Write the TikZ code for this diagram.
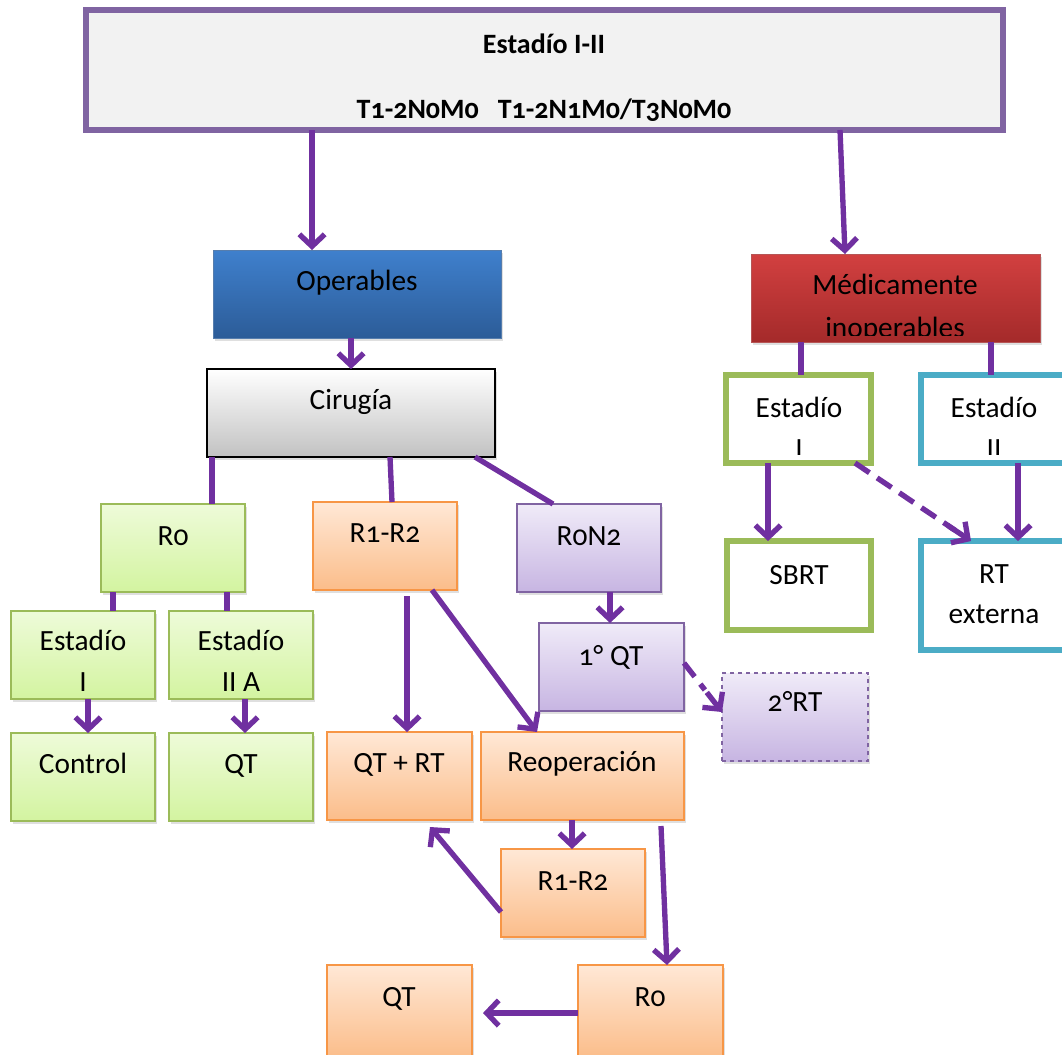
\documentclass[tikz,border=0pt]{standalone}
\usepackage{fontspec}
\setmainfont[Numbers=OldStyle]{Carlito}
\usetikzlibrary{arrows.meta,shadows,fit,calc}
\definecolor{purp}{HTML}{7030A0}
\definecolor{topborder}{HTML}{8064A2}
\definecolor{topfill}{HTML}{F2F2F2}
\definecolor{blueT}{HTML}{3F80CD}
\definecolor{blueB}{HTML}{2C5C98}
\definecolor{redT}{HTML}{D24040}
\definecolor{redB}{HTML}{A42A2A}
\definecolor{grnT}{HTML}{EEFBD9}
\definecolor{grnB}{HTML}{D3F4A0}
\definecolor{grnBorder}{HTML}{9BBB59}
\definecolor{orgT}{HTML}{FFE8D6}
\definecolor{orgB}{HTML}{FBBD8A}
\definecolor{orgBorder}{HTML}{F79646}
\definecolor{purT}{HTML}{F0EBF8}
\definecolor{purB}{HTML}{C7B5E2}
\definecolor{cyanBorder}{HTML}{4BACC6}
\tikzset{
  bx/.style={inner sep=0pt, outer sep=0pt, draw},
  shad/.style={drop shadow={opacity=0.25, shadow xshift=1.5pt, shadow yshift=-2pt}},
  topbox/.style={bx, fill=topfill, draw=topborder, line width=3.8pt, shad},
  bluebox/.style={bx, draw=blueB!80!white, line width=0.6pt, top color=blueT, bottom color=blueB, shad},
  redbox/.style={bx, draw=redB!80!white, line width=0.6pt, top color=redT, bottom color=redB, shad},
  graybox/.style={bx, draw=black, line width=1pt, top color=white, bottom color=black!24, shad},
  grnbox/.style={bx, draw=grnBorder, line width=1.2pt, top color=grnT, bottom color=grnB, shad},
  orgbox/.style={bx, draw=orgBorder, line width=1.2pt, top color=orgT, bottom color=orgB, shad},
  purbox/.style={bx, draw=topborder, line width=1.2pt, top color=purT, bottom color=purB, shad},
  gwbox/.style={bx, draw=grnBorder, fill=white, line width=3.8pt},
  cwbox/.style={bx, draw=cyanBorder, fill=white, line width=3.8pt},
  txt/.style={anchor=base, inner sep=0pt, font=\fontsize{22}{26}\selectfont},
  btxt/.style={anchor=base, inner sep=0pt, font=\fontsize{21}{25}\selectfont\bfseries},
  conn/.style={draw=purp, line width=4pt},
  arr/.style={conn, -{Straight Barb[length=9pt,width=19pt]}},
  dline/.style={conn, dash pattern=on 13pt off 7pt},
}
\begin{document}
\begin{tikzpicture}[x=0.75pt,y=-0.75pt]
\useasboundingbox (0,0) rectangle (1062,1054);
% boxes
\node[topbox, fit={(86,10)(1003,130)}] (top) {};
\node[bluebox, fit={(213,250)(501,338)}] (op) {};
\node[graybox, fit={(207,369)(495,457)}] (cir) {};
\node[redbox, fit={(751,254)(1040,342)}] (med) {};
\node[gwbox, fit={(726,375)(871,463)}] (ei) {};
\node[cwbox, fit={(921,375)(1068,463)}] (eii) {};
\node[gwbox, fit={(727,541)(871,630)}] (sbrt) {};
\node[cwbox, fit={(921,541)(1068,650)}] (rte) {};
\node[grnbox, fit={(101,504)(245,592)}] (r0) {};
\node[grnbox, fit={(11,611)(155,699)}] (gei) {};
\node[grnbox, fit={(169,611)(313,699)}] (geii) {};
\node[grnbox, fit={(11,733)(155,821)}] (ctrl) {};
\node[grnbox, fit={(169,733)(313,821)}] (gqt) {};
\node[orgbox, fit={(313,502)(457,590)}] (r12) {};
\node[purbox, fit={(517,504)(661,592)}] (r0n2) {};
\node[purbox, fit={(539,623)(684,711)}] (qt1) {};
\node[purbox, dashed, fit={(722,673)(868,761)}] (rt2) {};
\node[orgbox, fit={(327,732)(472,820)}] (qtrt) {};
\node[orgbox, fit={(481,732)(684,820)}] (reop) {};
\node[orgbox, fit={(501,849)(645,937)}] (r12b) {};
\node[orgbox, fit={(327,965)(472,1058)}] (qtb) {};
\node[orgbox, fit={(578,965)(723,1058)}] (r0b) {};
% texts
\node[btxt] (tA) at (544,53) {Estadío I-II};
\node[btxt] (tB) at (544,118) {T1-2N0M0\ \ \ T1-2N1M0/T3N0M0};
\node[txt] (tOp) at (357,290) {Operables};
\node[txt] (tCir) at (351,409) {Cirugía};
\begin{scope}
\clip (751,254) rectangle (1040,335);
\node[txt] (tMed) at (895,294) {Médicamente};
\node[txt] (tIno) at (895,337) {inoperables};
\end{scope}
\begin{scope}
\clip (726,375) rectangle (871,454);
\node[txt] (tEI) at (799,417) {Estadío};
\node[txt] (tEI2) at (799,458) {I};
\end{scope}
\begin{scope}
\clip (921,375) rectangle (1068,454);
\node[txt] (tEII) at (994,417) {Estadío};
\node[txt] (tEII2) at (994,458) {II};
\end{scope}
\node[txt] (tSB) at (799,584) {SBRT};
\node[txt] (tRT) at (994,583) {RT};
\node[txt] (tRT2) at (994,623) {externa};
\node[txt] (tR0) at (173,545) {R0};
\node[txt] (tGE) at (83,650) {Estadío};
\node[txt] (tGE2) at (83,691) {I};
\node[txt] (tGEII) at (241,650) {Estadío};
\node[txt] (tGEII2) at (241,691) {II A};
\node[txt] (tCtrl) at (83,773) {Control};
\node[txt] (tGQT) at (241,773) {QT};
\node[txt] (tR12) at (385,542) {R1-R2};
\node[txt] (tR0N2) at (589,545) {R0N2};
\node[txt] (tQT1) at (611,665) {1° QT};
\node[txt] (tRT2b) at (795,711) {2°RT};
\node[txt] (tQTRT) at (399,772) {QT + RT};
\node[txt] (tReop) at (582,771) {Reoperación};
\node[txt] (tR12b) at (573,890) {R1-R2};
\node[txt] (tQTb) at (399,1006) {QT};
\node[txt] (tR0b) at (650,1006) {R0};
% connectors
\draw[arr] (312,0 |- top.south) -- (312,0 |- op.north);
\draw[arr] (840,0 |- top.south) -- (845,0 |- med.north);
\draw[arr] (351,0 |- op.south) -- (351,0 |- cir.north);
\draw[conn] (801,0 |- med.south) -- (801,0 |- ei.north);
\draw[conn] (991,0 |- med.south) -- (991,0 |- eii.north);
\draw[arr] (768,0 |- ei.south) -- (768,0 |- sbrt.north);
\coordinate (d1a) at (855,0 |- ei.south);
\coordinate (d1b) at (971,0 |- rte.north);
\draw[dline] (d1a) -- ($(d1a)!0.86!(d1b)$);
\draw[arr] ($(d1a)!0.8!(d1b)$) -- (d1b);
\draw[arr] (1018,0 |- eii.south) -- (1018,0 |- rte.north);
\draw[conn] (212,0 |- cir.south) -- (212,0 |- r0.north);
\draw[conn] (390,0 |- cir.south) -- (392,0 |- r12.north);
\draw[conn] (475,0 |- cir.south) -- (553,0 |- r0n2.north);
\draw[conn] (113,0 |- r0.south) -- (113,0 |- gei.north);
\draw[conn] (227,0 |- r0.south) -- (227,0 |- geii.north);
\draw[arr] (88,0 |- gei.south) -- (88,0 |- ctrl.north);
\draw[arr] (245,0 |- geii.south) -- (245,0 |- gqt.north);
\draw[arr] (407,596) -- (407,0 |- qtrt.north);
\draw[arr] (432,0 |- r12.south) -- (537,0 |- reop.north);
\draw[arr] (610,0 |- r0n2.south) -- (610,0 |- qt1.north);
\coordinate (d2a) at (qt1.east |- 0,663);
\coordinate (d2b) at (rt2.west |- 0,712);
\draw[dline] (d2a) -- ($(d2a)!0.55!(d2b)$);
\draw[arr] ($(d2a)!0.6!(d2b)$) -- (d2b);
\draw[arr] (572,0 |- reop.south) -- (572,0 |- r12b.north);
\draw[arr] (661,826) -- (667,0 |- r0b.north);
\draw[arr] (r12b.west |- 0,912) -- (430,827);
\draw[arr] (r0b.west |- 0,1013) -- (483,1013);
\end{tikzpicture}
\end{document}
